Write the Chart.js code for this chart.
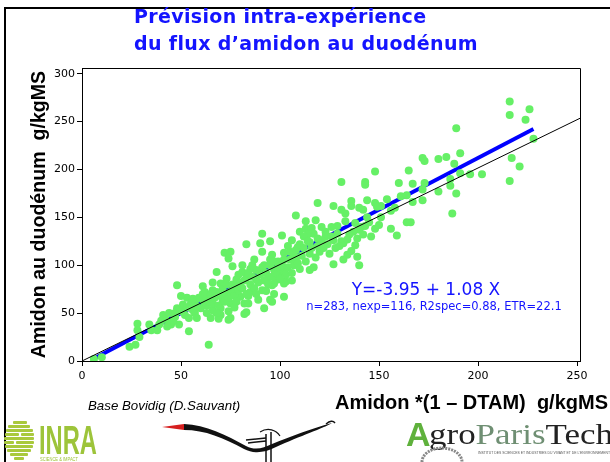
<!DOCTYPE html>
<html lang="fr">
<head>
  <meta charset="UTF-8">
  <title>Prévision intra-expérience du flux d'amidon au duodénum</title>
  <script src="https://cdn.jsdelivr.net/npm/chart.js"></script>
  <style>
    body { margin: 0; background: #fff; }
    #wrap { position: relative; width: 610px; height: 462px; overflow: hidden; background: #fff; }
    #chart { position: absolute; left: 0; top: 0; }
    .frame { position: absolute; left: 4px; top: 7px; width: 620px; height: 470px;
             border-left: 2px solid #000; border-top: 2px solid #000; }
    .txt { position: absolute; white-space: pre; }
    #title { left: 134px; top: 3px; color: #1414ff; font: bold 19px "Comic Sans MS", "DejaVu Sans", sans-serif; line-height: 27px; letter-spacing: 0.35px; }
    #xtitle { right: 2px; top: 391px; font: bold 20px "Liberation Sans", Arial, sans-serif; line-height: 22px; }
    #source { left: 88px; top: 398px; font: italic 13.3px "Liberation Sans", Arial, sans-serif; line-height: 16px; }
    #eq { left: 326px; width: 200px; top: 280px; text-align: center; color: #1414ff; font: 17px "DejaVu Sans", sans-serif; line-height: 19px; }
    #stats { left: 284px; width: 300px; top: 299px; text-align: center; color: #1414ff; font: 11.5px "DejaVu Sans", sans-serif; line-height: 14px; }
    #logos { position: absolute; left: 0; top: 0; }
  </style>
</head>
<body>
<div id="wrap">
  <canvas id="chart" width="610" height="462"></canvas>
  <div class="frame"></div>
  <div id="title" class="txt">Prévision intra-expérience
du flux d’amidon au duodénum</div>
  <div id="eq" class="txt">Y=-3.95 + 1.08 X</div>
  <div id="stats" class="txt">n=283, nexp=116, R2spec=0.88, ETR=22.1</div>
  <div id="source" class="txt">Base Bovidig (D.Sauvant)</div>
  <div id="xtitle" class="txt">Amidon *(1 – DTAM)  g/kgMS</div>
  <svg id="logos" width="610" height="462">
    <!-- INRA -->
    <g fill="#a9c93c">
      <rect x="13" y="421" width="14" height="3" rx="1"/>
      <rect x="8" y="425" width="22" height="3" rx="1"/>
      <rect x="6" y="429" width="27" height="3" rx="1"/>
      <rect x="5" y="433" width="14" height="3" rx="1"/><rect x="21" y="433" width="13" height="3" rx="1"/>
      <rect x="4" y="437" width="30" height="3" rx="1"/>
      <rect x="4" y="441" width="10" height="3" rx="1"/><rect x="16" y="441" width="18" height="3" rx="1"/>
      <rect x="5" y="445" width="28" height="3" rx="1"/>
      <rect x="7" y="449" width="24" height="3" rx="1"/>
      <rect x="10" y="453" width="18" height="3" rx="1"/>
      <rect x="14" y="457" width="10" height="3" rx="1"/>
    </g>
    <text x="39" y="454" fill="#9dc43a" font-family="Liberation Sans Narrow, Liberation Sans, sans-serif" font-weight="bold" font-size="40" textLength="58" lengthAdjust="spacingAndGlyphs">INRA</text>
    <text x="40" y="461" fill="#9dc43a" font-family="Liberation Sans, sans-serif" font-size="5" textLength="38" lengthAdjust="spacingAndGlyphs">SCIENCE &amp; IMPACT</text>
    <!-- swoosh -->
    <path d="M162,427 L184,424 L184,430 Z" fill="#d61f1f"/>
    <path d="M184,424 C206,425 226,435 246,446 C256,451 263,448 272,444 C292,436 310,429 332,423 C324,428 300,436 276,447 C264,453 254,454 244,449 C224,438 205,430 184,430 Z" fill="#111"/>
    <path d="M326,424 q6,-5 9,-1" stroke="#111" stroke-width="1.5" fill="none"/>
    <path d="M246,440 L266,438 M248,443 L266,441" stroke="#111" stroke-width="1.5"/>
    <path d="M266,434 L266,462 M271,432 L271,462" stroke="#111" stroke-width="1.5"/>
    <path d="M260,432 C268,427 276,430 280,436" stroke="#111" stroke-width="1.2" fill="none"/>
    <!-- AgroParisTech -->
    <text x="406" y="446" fill="#5fb13c" font-family="Liberation Sans, sans-serif" font-weight="bold" font-size="34">A</text>
    <text x="429" y="444" font-family="Liberation Serif, serif" font-size="30" textLength="184" lengthAdjust="spacingAndGlyphs"><tspan fill="#222">gro</tspan><tspan fill="#6f8f73">Paris</tspan><tspan fill="#222">Tech</tspan></text>
    <text x="478" y="454" fill="#555" font-family="Liberation Sans, sans-serif" font-size="3.6" textLength="132" lengthAdjust="spacingAndGlyphs">INSTITUT DES SCIENCES ET INDUSTRIES DU VIVANT ET DE L'ENVIRONNEMENT</text>
    <path d="M422,462 A20,14 0 0 1 462,462" stroke="#888" stroke-width="3" fill="none" stroke-dasharray="2 1"/>
  </svg>
</div>

<script>
  // axis ticks
  const xTicks = [0, 50, 100, 150, 200, 250];
  const yTicks = [0, 50, 100, 150, 200, 250, 300];

  const obsX = [
    216, 226, 216, 224, 189, 228, 191, 172, 173, 180, 184, 217, 188, 165, 221, 191, 196, 202, 186, 160,
    167, 173, 186, 216, 172, 180, 189, 154, 161, 164, 167, 172, 151, 158, 156, 151, 187, 164, 166, 156,
    159,
    148, 131, 143, 143, 119, 127, 136, 136, 131, 133, 140, 142, 144, 148, 149, 108, 113, 118, 133, 129,
    138, 141, 143, 148, 140, 110, 113, 116, 121, 117, 114, 112, 119, 123, 127, 135, 131, 138, 101, 106,
    109, 115,
    134, 139, 140, 127, 115, 106, 132,
    91, 83, 90, 95, 91, 96, 102, 107, 72, 75, 74, 87, 95, 99, 105, 76, 81, 85, 68, 92,
    97, 102, 107, 94, 99, 103, 83, 88, 91, 96, 85, 84, 78, 73, 70, 76, 80, 75, 71, 66,
    61, 64, 61, 57, 53, 50, 51, 56, 66, 70, 65, 75, 82, 92, 89, 95, 102, 82, 50,
    6, 10, 48, 54, 28, 28, 29, 24, 27, 34, 35, 38, 39, 41, 44, 45, 49, 47, 51, 64,
    96, 83, 74, 69, 97, 102, 100, 103, 108,
    42, 44, 46, 48, 52, 53, 55, 57, 58, 59, 60, 62, 54, 47, 43, 40, 58, 56, 61, 63,
    62, 64, 65, 66, 67, 68, 69, 70, 71, 72, 72, 73, 74, 75, 76, 77, 78, 78, 79, 80,
    66, 70, 74, 77, 79, 63, 68,
    81, 82, 83, 84, 85, 86, 87, 88, 89, 90, 91, 92, 93, 94, 95, 96, 97, 98, 99, 100,
    86, 88, 93, 81, 84, 97,
    101, 102, 104, 105, 106, 108, 109, 110, 111, 112, 113, 114, 115, 116, 118, 119, 120, 121, 122, 124,
    125, 104, 110, 117, 123,
    126, 128, 129, 130, 134, 136, 137, 139, 142, 145, 146, 150, 126, 132, 144
  ];
  const obsY = [
    271, 263, 257, 252, 243, 232, 217, 212, 209, 211, 213, 212, 206, 199, 203, 196, 195, 195, 190, 186,
    185, 186, 183, 188, 179, 177, 175, 169, 172, 173, 166, 168, 162, 160, 157, 150, 154, 145, 145, 138,
    131,
    198, 187, 187, 184, 165, 162, 167, 162, 158, 154, 160, 158, 168, 165, 161, 152, 146, 147, 146, 141,
    144, 140, 141, 138, 137, 135, 138, 139, 140, 133, 132, 130, 128, 130, 126, 132, 125, 121, 131, 126,
    119, 124,
    111, 109, 100, 101, 95, 84, 123,
    133, 122, 123, 125, 114, 111, 113, 111, 113, 114, 107, 106, 106, 104, 106, 99, 93, 96, 93, 100,
    95, 93, 100, 87, 85, 83, 87, 85, 74, 79, 72, 68, 78, 86, 81, 74, 67, 60, 64, 74,
    78, 67, 64, 62, 66, 68, 59, 53, 53, 48, 45, 45, 49, 55, 64, 64, 67, 60, 52,
    2, 4, 79, 31, 39, 32, 25, 15, 17, 38, 32, 32, 38, 48, 41, 38, 38, 46, 57, 17,
    62, 51, 43, 44, 81, 81, 93, 90, 106,
    44, 50, 42, 55, 48, 56, 60, 50, 57, 66, 55, 60, 45, 50, 36, 42, 45, 65, 70, 58,
    72, 62, 70, 60, 66, 72, 58, 68, 75, 62, 70, 80, 66, 72, 80, 68, 85, 62, 74, 82,
    82, 55, 52, 56, 90, 50, 50,
    76, 84, 70, 92, 80, 88, 76, 95, 82, 90, 98, 84, 92, 80, 100, 88, 104, 92, 98, 86,
    100, 70, 73, 100, 60, 70,
    100, 106, 98, 114, 92, 116, 102, 122, 110, 118, 104, 125, 112, 118, 108, 120, 114, 126, 118, 122,
    112, 120, 96, 98, 135,
    130, 118, 133, 120, 127, 115, 135, 128, 132, 145, 130, 142, 140, 106, 150
  ];

  // regression Y = -3.95 + 1.08 X, drawn over the observed range
  const fitX = [7, 228];
  const fitY = [3.6, 242.3];
  // reference line (near 1:1), as drawn
  const idX = [0, 252];
  const idY = [0, 254];

  const toXY = (xs, ys) => xs.map((x, i) => ({ x: x, y: ys[i] }));

  const boxPlugin = {
    id: 'box',
    afterDraw(chart) {
      const { ctx, chartArea: a } = chart;
      ctx.save();
      ctx.strokeStyle = '#000';
      ctx.lineWidth = 1;
      ctx.beginPath();
      ctx.moveTo(a.left, a.top + 0.5);
      ctx.lineTo(a.right + 0.5, a.top + 0.5);
      ctx.lineTo(a.right + 0.5, a.bottom);
      ctx.stroke();
      ctx.restore();
    }
  };

  const ctx = document.getElementById('chart').getContext('2d');
  new Chart(ctx, {
    type: 'scatter',
    data: {
      datasets: [
        {
          label: '1:1',
          data: toXY(idX, idY),
          showLine: true,
          borderColor: '#000',
          borderWidth: 1,
          pointRadius: 0,
          order: 0
        },
        {
          label: 'Observations',
          data: toXY(obsX, obsY),
          backgroundColor: '#66f066',
          borderWidth: 0,
          pointRadius: 4,
          order: 1
        },
        {
          label: 'Régression',
          data: toXY(fitX, fitY),
          showLine: true,
          borderColor: '#0000ff',
          borderWidth: 3.8,
          pointRadius: 0,
          order: 2
        }
      ]
    },
    options: {
      responsive: false,
      animation: false,
      devicePixelRatio: 1,
      layout: { padding: { left: 0, top: 68, right: 30, bottom: 0 } },
      plugins: { legend: { display: false }, tooltip: { enabled: false } },
      scales: {
        x: {
          type: 'linear',
          min: 0,
          max: 251.5,
          grid: { drawOnChartArea: false, drawTicks: true, tickLength: 5, color: '#000' },
          border: { display: true, color: '#000', width: 1 },
          ticks: { color: '#000', padding: 4, font: { family: 'DejaVu Sans', size: 11 } },
          afterBuildTicks: s => { s.ticks = xTicks.map(v => ({ value: v })); },
          afterFit: s => { s.height = 101; }
        },
        y: {
          type: 'linear',
          min: 0,
          max: 306,
          grid: { drawOnChartArea: false, drawTicks: true, tickLength: 5, color: '#000' },
          border: { display: true, color: '#000', width: 1 },
          ticks: { color: '#000', padding: 2, font: { family: 'DejaVu Sans', size: 11 } },
          title: {
            display: true,
            text: 'Amidon au duodénum  g/kgMS',
            color: '#000',
            padding: { top: 28, bottom: 0 },
            font: { family: 'Liberation Sans', size: 19.6, weight: 'bold' }
          },
          afterBuildTicks: s => { s.ticks = yTicks.map(v => ({ value: v })); },
          afterFit: s => { s.width = 82; }
        }
      }
    },
    plugins: [boxPlugin]
  });
</script>
</body>
</html>
